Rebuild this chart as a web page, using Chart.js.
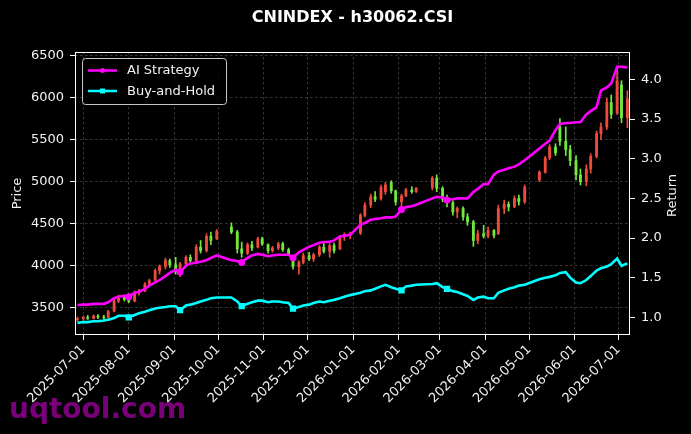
<!DOCTYPE html>
<html>
<head>
<meta charset="utf-8">
<script src="https://cdn.jsdelivr.net/npm/chart.js@4.4.0/dist/chart.umd.min.js"></script>
<style>
  html, body { margin: 0; padding: 0; background: #000; }
  canvas { display: block; }
</style>
</head>
<body>
<canvas id="myChart" width="691" height="434"></canvas>
<script>
// trading days shown (roughly two per week)
const dates = [
  '2025-06-27','2025-07-01','2025-07-04','2025-07-08','2025-07-11','2025-07-15','2025-07-18','2025-07-22','2025-07-25','2025-07-29',
  '2025-08-01','2025-08-05','2025-08-08','2025-08-12','2025-08-15','2025-08-19','2025-08-22','2025-08-26','2025-08-29','2025-09-02',
  '2025-09-05','2025-09-09','2025-09-12','2025-09-16','2025-09-19','2025-09-23','2025-09-26','2025-09-30','2025-10-10','2025-10-14',
  '2025-10-17','2025-10-21','2025-10-24','2025-10-28','2025-10-31','2025-11-04','2025-11-07','2025-11-11','2025-11-14','2025-11-18',
  '2025-11-21','2025-11-25','2025-11-28','2025-12-02','2025-12-05','2025-12-09','2025-12-12','2025-12-16','2025-12-19','2025-12-23',
  '2025-12-26','2025-12-30','2026-01-06','2026-01-09','2026-01-13','2026-01-16','2026-01-20','2026-01-23','2026-01-27','2026-01-30',
  '2026-02-03','2026-02-06','2026-02-10','2026-02-13','2026-02-24','2026-02-27','2026-03-03','2026-03-06','2026-03-10','2026-03-13',
  '2026-03-17','2026-03-20','2026-03-24','2026-03-27','2026-03-31','2026-04-03','2026-04-07','2026-04-10','2026-04-14','2026-04-17',
  '2026-04-21','2026-04-24','2026-04-28','2026-05-08','2026-05-12','2026-05-15','2026-05-19','2026-05-22','2026-05-26','2026-05-29',
  '2026-06-02','2026-06-05','2026-06-09','2026-06-12','2026-06-16','2026-06-19','2026-06-23','2026-06-26','2026-06-30','2026-07-03',
  '2026-07-07'
]
const open = [
  3360,3370,3385,3375,3400,3390,3385,3460,3580,3625,
  3600,3580,3680,3700,3780,3830,3940,3990,4060,4010,
  3930,4020,4100,4060,4220,4180,4350,4320,4460,4400,
  4200,4150,4250,4220,4320,4250,4180,4210,4260,4190,
  4100,3990,4040,4120,4080,4130,4220,4170,4240,4200,
  4340,4360,4390,4600,4720,4820,4800,4880,4990,4890,
  4760,4830,4900,4880,4930,5040,4920,4790,4750,4640,
  4680,4580,4520,4300,4380,4350,4420,4380,4680,4730,
  4700,4800,4760,5020,5110,5280,5410,5650,5480,5380,
  5250,5080,5000,5150,5300,5570,5650,5940,5820,6150,
  5760
]
const high = [
  3390,3400,3410,3415,3420,3410,3470,3600,3650,3650,
  3620,3700,3720,3800,3840,3960,4010,4090,4080,4100,
  4040,4120,4130,4250,4300,4380,4400,4430,4510,4420,
  4280,4270,4290,4340,4340,4260,4230,4280,4280,4210,
  4110,4060,4150,4160,4150,4240,4270,4260,4270,4360,
  4390,4400,4620,4750,4850,4880,4960,4990,5010,4900,
  4850,4920,4940,4930,5060,5080,4940,4840,4770,4700,
  4700,4620,4540,4420,4480,4460,4430,4720,4780,4760,
  4830,4840,4960,5130,5300,5440,5450,5750,5650,5430,
  5310,5150,5200,5330,5600,5700,5990,6030,6370,6200,
  6080
]
const low = [
  3340,3350,3360,3365,3370,3365,3375,3450,3560,3580,
  3560,3570,3650,3690,3760,3820,3900,3960,3980,3900,
  3870,4000,4040,4050,4150,4160,4250,4310,4380,4150,
  4100,4130,4180,4210,4240,4150,4160,4190,4170,4120,
  3960,3900,4020,4060,4050,4110,4150,4100,4150,4190,
  4300,4320,4370,4580,4690,4760,4780,4850,4860,4720,
  4680,4820,4860,4870,4900,4880,4760,4700,4600,4570,
  4540,4480,4230,4260,4330,4330,4330,4370,4620,4650,
  4690,4720,4740,5000,5100,5260,5310,5430,5310,5190,
  5020,4960,4950,5100,5280,5500,5620,5750,5800,5700,
  5640
]
const close = [
  3370,3385,3375,3400,3390,3380,3455,3580,3620,3600,
  3575,3680,3700,3780,3820,3940,3990,4060,4010,3930,
  4020,4100,4060,4220,4180,4350,4300,4410,4400,4200,
  4150,4250,4210,4320,4260,4180,4210,4260,4190,4140,
  3990,4040,4120,4080,4130,4220,4170,4240,4180,4340,
  4370,4380,4600,4720,4820,4790,4930,4960,4890,4760,
  4830,4900,4880,4920,5040,4920,4790,4750,4640,4680,
  4580,4520,4300,4380,4350,4420,4360,4680,4730,4700,
  4800,4760,4930,5110,5280,5410,5340,5480,5380,5250,
  5080,5000,5150,5300,5570,5650,5940,5800,6200,5760,
  5980
]
const aiReturn = [
  1.155,1.16,1.16,1.17,1.17,1.17,1.19,1.24,1.26,1.27,
  1.26,1.31,1.32,1.36,1.40,1.44,1.47,1.52,1.56,1.60,
  1.57,1.65,1.68,1.69,1.70,1.72,1.75,1.78,1.72,1.71,
  1.69,1.75,1.78,1.80,1.79,1.77,1.78,1.79,1.79,1.79,
  1.75,1.82,1.85,1.89,1.91,1.94,1.95,1.95,1.97,2.02,
  2.03,2.04,2.17,2.19,2.23,2.24,2.25,2.26,2.26,2.27,
  2.36,2.39,2.40,2.42,2.50,2.52,2.51,2.48,2.49,2.50,
  2.50,2.50,2.58,2.62,2.68,2.68,2.80,2.84,2.86,2.88,
  2.90,2.93,2.98,3.13,3.19,3.23,3.36,3.44,3.45,3.45,
  3.46,3.46,3.56,3.60,3.65,3.86,3.90,3.95,4.16,4.16,
  4.15
]
const bhReturn = [
  0.93,0.94,0.94,0.95,0.95,0.96,0.97,0.99,1.02,1.02,
  1.00,1.03,1.05,1.07,1.09,1.11,1.12,1.13,1.14,1.14,
  1.09,1.15,1.16,1.18,1.20,1.22,1.24,1.25,1.25,1.20,
  1.14,1.17,1.19,1.21,1.21,1.19,1.20,1.20,1.19,1.18,
  1.11,1.13,1.15,1.16,1.18,1.20,1.19,1.21,1.22,1.24,
  1.26,1.28,1.31,1.33,1.34,1.36,1.39,1.41,1.38,1.36,
  1.34,1.39,1.40,1.41,1.42,1.43,1.38,1.36,1.33,1.32,
  1.29,1.27,1.22,1.25,1.26,1.24,1.24,1.31,1.34,1.36,
  1.38,1.40,1.41,1.48,1.50,1.51,1.53,1.56,1.57,1.50,
  1.44,1.43,1.47,1.52,1.59,1.62,1.64,1.67,1.74,1.65,
  1.68
]
// days where the strategy traded (marker shown)
const tradeDates = ['2025-08-01','2025-09-05','2025-10-17','2025-11-21','2026-02-03','2026-03-06']

const priceTicks = [3500, 4000, 4500, 5000, 5500, 6000, 6500]
const returnTicks = [1.0, 1.5, 2.0, 2.5, 3.0, 3.5, 4.0]
const monthTicks = ['2025-07-01','2025-08-01','2025-09-01','2025-10-01','2025-11-01','2025-12-01','2026-01-01',
  '2026-02-01','2026-03-01','2026-04-01','2026-05-01','2026-06-01','2026-07-01']

const DAY = 86400000
function ts(s) {
  const [y, m, d] = s.split('-').map(Number)
  return Date.UTC(y, m - 1, d)
}
const xMin = ts('2025-07-01') - 5.66 * DAY
const xMax = ts('2025-07-01') + 372.8 * DAY

const UP = '#ef4b3c'
const DOWN = '#72e83c'
const candleColor = close.map((c, i) => c >= open[i] ? UP : DOWN)
const tradeIdx = tradeDates.map(d => dates.indexOf(d))

Chart.defaults.font.family = '"DejaVu Sans", sans-serif'
Chart.defaults.font.size = 13
Chart.defaults.color = '#f2f2f2'

const canvas = document.getElementById('myChart')

const decor = {
  id: 'decor',
  beforeDraw(chart) {
    const ctx = chart.ctx
    ctx.save()
    ctx.fillStyle = '#000'
    ctx.fillRect(0, 0, chart.width, chart.height)
    // watermark
    ctx.font = 'bold 28px "DejaVu Sans", sans-serif'
    ctx.fillStyle = 'rgba(135, 0, 135, 0.9)'
    ctx.textBaseline = 'alphabetic'
    ctx.fillText('uqtool.com', 9, 418)
    ctx.restore()
  },
  afterDraw(chart) {
    const ctx = chart.ctx
    const a = chart.chartArea
    ctx.save()
    ctx.strokeStyle = '#fff'
    ctx.lineWidth = 1
    ctx.strokeRect(Math.round(a.left) + 0.5, Math.round(a.top) + 0.5,
      Math.round(a.right - a.left) - 1, Math.round(a.bottom - a.top) - 1)

    // right axis title, reading upwards like matplotlib
    ctx.save()
    ctx.translate(673, (a.top + a.bottom) / 2 + 2)
    ctx.rotate(-Math.PI / 2)
    ctx.font = '13px "DejaVu Sans", sans-serif'
    ctx.fillStyle = '#f2f2f2'
    ctx.textAlign = 'center'
    ctx.textBaseline = 'middle'
    ctx.fillText('Return', 0, 0)
    ctx.restore()

    // legend box
    const bx = 82.5, by = 58.5, bw = 144, bh = 46
    ctx.beginPath()
    ctx.roundRect(bx, by, bw, bh, 3)
    ctx.fillStyle = 'rgba(0,0,0,0.8)'
    ctx.fill()
    ctx.strokeStyle = 'rgba(220,220,220,0.9)'
    ctx.stroke()
    const items = [
      { label: 'AI Strategy', color: '#ff00ff', y: 70.5, shape: 'circle' },
      { label: 'Buy-and-Hold', color: '#00ffff', y: 91, shape: 'rect' }
    ]
    ctx.font = '13px "DejaVu Sans", sans-serif'
    ctx.textBaseline = 'middle'
    items.forEach(it => {
      ctx.strokeStyle = it.color
      ctx.fillStyle = it.color
      ctx.lineWidth = 2.5
      ctx.beginPath()
      ctx.moveTo(88, it.y)
      ctx.lineTo(117, it.y)
      ctx.stroke()
      if (it.shape === 'circle') {
        ctx.beginPath()
        ctx.arc(102.5, it.y, 2.5, 0, Math.PI * 2)
        ctx.fill()
      } else {
        ctx.fillRect(100, it.y - 2.5, 5, 5)
      }
      ctx.fillStyle = '#f2f2f2'
      ctx.fillText(it.label, 127, it.y + 0.5)
    })
    ctx.restore()
  }
}

const gridStyle = {
  color: 'rgba(150,150,150,0.45)',
  lineWidth: 0.8,
  tickColor: '#fff',
  tickLength: 5,
  tickWidth: 1
}

const config = {
  type: 'bar',
  data: {
    datasets: [
      {
        type: 'line',
        label: 'AI Strategy',
        data: dates.map((d, i) => ({ x: ts(d), y: aiReturn[i] })),
        yAxisID: 'y1',
        borderColor: '#ff00ff',
        backgroundColor: '#ff00ff',
        borderWidth: 2.6,
        pointStyle: 'circle',
        pointRadius: c => tradeIdx.includes(c.dataIndex) ? 2.2 : 0,
        tension: 0,
        order: 0
      },
      {
        type: 'line',
        label: 'Buy-and-Hold',
        data: dates.map((d, i) => ({ x: ts(d), y: bhReturn[i] })),
        yAxisID: 'y1',
        borderColor: '#00ffff',
        backgroundColor: '#00ffff',
        borderWidth: 2.6,
        pointStyle: 'rect',
        pointRadius: c => tradeIdx.includes(c.dataIndex) ? 2.6 : 0,
        tension: 0,
        order: 1
      },
      {
        label: 'body',
        data: dates.map((d, i) => ({ x: ts(d), y: [open[i], close[i]] })),
        yAxisID: 'y',
        backgroundColor: candleColor,
        barThickness: 2.2,
        grouped: false,
        order: 2
      },
      {
        label: 'wick',
        data: dates.map((d, i) => ({ x: ts(d), y: [low[i], high[i]] })),
        yAxisID: 'y',
        backgroundColor: candleColor,
        barThickness: 1,
        grouped: false,
        order: 3
      }
    ]
  },
  options: {
    responsive: false,
    animation: false,
    events: [],
    layout: { padding: 0 },
    plugins: {
      legend: { display: false },
      tooltip: { enabled: false },
      title: {
        display: true,
        text: 'CNINDEX - h30062.CSI',
        color: '#fff',
        fullSize: false,
        font: { size: 16, weight: 'bold' },
        padding: { top: 8, bottom: 24.8 }
      }
    },
    scales: {
      x: {
        type: 'linear',
        min: xMin,
        max: xMax,
        offset: false,
        grid: { ...gridStyle, offset: false },
        border: { display: false, dash: [2.5, 2.5] },
        afterBuildTicks: s => { s.ticks = monthTicks.map(m => ({ value: ts(m) })) },
        afterFit: s => { s.height = 99 },
        ticks: {
          autoSkip: false,
          maxRotation: 45,
          minRotation: 45,
          padding: 2,
          callback: v => new Date(v).toISOString().slice(0, 10)
        }
      },
      y: {
        position: 'left',
        min: 3176,
        max: 6541,
        grid: gridStyle,
        border: { display: false, dash: [2.5, 2.5] },
        afterBuildTicks: s => { s.ticks = priceTicks.map(v => ({ value: v })) },
        afterFit: s => { s.width = 75 },
        ticks: { padding: 6, callback: v => String(v) },
        title: { display: true, text: 'Price', color: '#f2f2f2', padding: { top: 10, bottom: 0 } }
      },
      y1: {
        position: 'right',
        min: 0.777,
        max: 4.346,
        grid: { ...gridStyle, drawOnChartArea: false },
        border: { display: false },
        afterBuildTicks: s => { s.ticks = returnTicks.map(v => ({ value: v })) },
        afterFit: s => { s.width = 61 },
        ticks: { padding: 6, callback: v => v.toFixed(1) }
      }
    }
  },
  plugins: [decor]
}

const myChart = new Chart(canvas, config)
</script>
</body>
</html>
